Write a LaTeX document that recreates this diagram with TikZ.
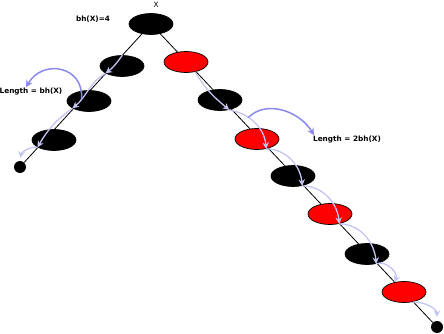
\documentclass[tikz,border=0pt]{standalone}
\usepackage{fontspec}
\setsansfont{DejaVu Sans}
\usetikzlibrary{shapes.geometric,arrows.meta,backgrounds}
\definecolor{walkblue}{RGB}{196,196,242}
\definecolor{lenblue}{RGB}{138,138,236}
\tikzset{
  blacknode/.style={ellipse,draw=black,fill=black,line width=0.7pt,minimum width=44pt,minimum height=21pt,inner sep=0pt},
  leafnode/.style={circle,fill=black,minimum size=12pt,inner sep=0pt},
  treeline/.style={black,line width=0.8pt},
  walk/.style={walkblue,line width=1.3pt,-{Stealth[length=6.5pt,width=6.5pt]}},
  lenarrow/.style={lenblue,line width=1.5pt,-{Stealth[length=7pt,width=7pt]}},
  lbl/.style={font=\sffamily\bfseries\fontsize{7.3}{8}\selectfont,inner sep=1pt},
  plainlbl/.style={font=\sffamily\fontsize{7.3}{8}\selectfont,inner sep=1pt}
}

\begin{document}
\begin{tikzpicture}[x=1pt,y=1pt]
    \useasboundingbox (0,0) rectangle (444,-334);
    \node[blacknode] (root) at (151,-24) {};
    \node[plainlbl] (xlabel) at (156,-5) {X};
    \node[lbl] (bhlabel) at (93,-19) {bh(X)=4};
    \foreach \n/\x/\y in {l1/122/66,l2/89/101,l3/54/140}
        \node[blacknode] (\n) at (\x,-\y) {};
    \node[leafnode] (lleaf) at (20,-167) {};
    \foreach \n/\x/\y/\c in {r1/186/62/red,r2/220/100/black,r3/257/139/red,r4/293/176/black,r5/330/214/red,r6/367/254/black,r7/404/292/red}
        \node[blacknode,fill=\c] (\n) at (\x,-\y) {};
    \node[leafnode] (rleaf) at (437,-327) {};
    \node[lbl] (lenleft) at (31,-92) {Length = bh(X)};
    \node[lbl] (lenright) at (347,-140) {Length = 2bh(X)};
    \begin{scope}[on background layer]
        \draw[treeline] (root) -- (lleaf);
        \draw[treeline] (root) -- (rleaf);
    \end{scope}
    \draw[walk] (l1.88) .. controls +(-5,-7) and +(8,6) .. (l1.-156);
    \draw[walk] (l1.-156) to[out=-150,in=40] coordinate[pos=0.75] (lbend) (l2.-156);
    \draw[walk] (l2.-156) to[out=-145,in=60] (l3.-156);
    \draw[walk,shorten >=3pt] (l3.-156) to[out=175,in=80] (lleaf.north);
    \draw[lenarrow] (lbend) to[out=85,in=60,looseness=1.5] ([xshift=-5pt]lenleft.north);
    \draw[walk] (r1.-47) to[out=-60,in=140] (r2.-47);
    \draw[walk] (r2.-47) to[out=-10,in=95] coordinate[pos=0.35] (rbend) (r3.-47);
    \foreach \a/\b in {r3/r4,r4/r5,r5/r6}
        \draw[walk] (\a.-47) to[out=0,in=95] (\b.-47);
    \draw[walk] (r6.-47) to[out=25,in=70] (r7.133);
    \draw[walk,shorten >=4pt] (r7.-47) to[out=0,in=90] (rleaf.north);
    \draw[lenarrow] (rbend) to[out=45,in=120] ([xshift=2pt]lenright.north west);
\end{tikzpicture}
\end{document}
